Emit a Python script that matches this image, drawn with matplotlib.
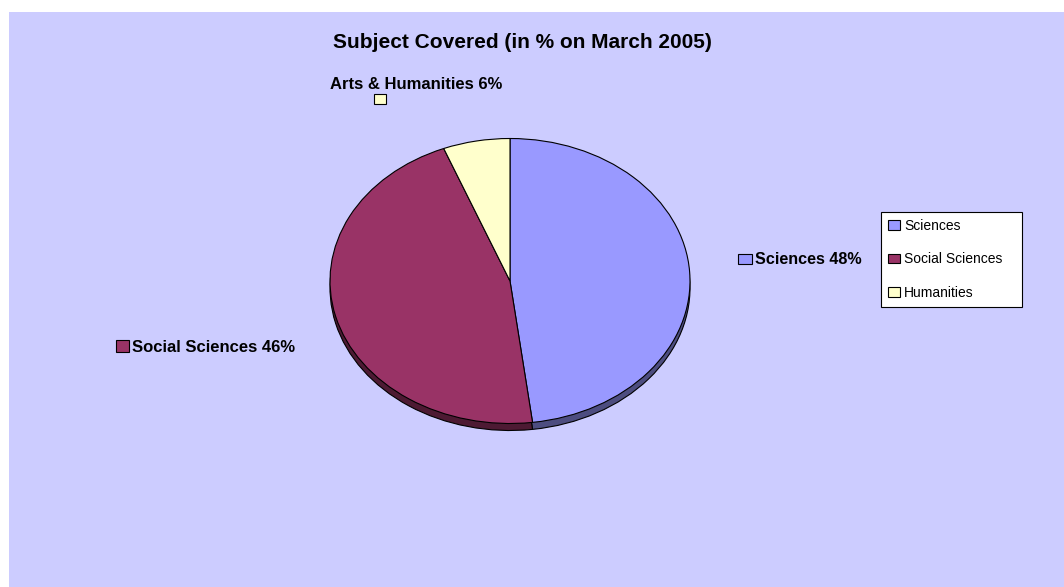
import matplotlib.pyplot as plt
from matplotlib.patches import Rectangle, Patch

plt.rcParams['font.family'] = ['Liberation Sans', 'DejaVu Sans']

# data
labels = ['Sciences', 'Social Sciences', 'Humanities']
values = [48, 46, 6]
label_text = ['Sciences 48%', 'Social Sciences 46%', 'Arts & Humanities 6%']
colors = ['#9999FF', '#993366', '#FFFFCC']
side_colors = ['#4D4D80', '#4D1A33', '#808066']

W, H = 1064, 587


def fx(px):
    return px / W


def fy(py):
    return 1 - py / H


fig = plt.figure(figsize=(W / 100, H / 100), dpi=100)
fig.patch.set_facecolor('white')

# lavender chart area
fig.add_artist(Rectangle((fx(9), 0), 1 - fx(9), fy(12), transform=fig.transFigure,
                         facecolor='#CCCCFF', edgecolor='none', zorder=0))

fig.text(fx(522), fy(48), 'Subject Covered (in % on March 2005)', ha='center', va='baseline',
         fontsize=15, fontweight='bold')

# pie axes, ellipse centre (510, 281), rx 180, ry 142.5
cx, cy, rx, ry = 510, 281, 180, 142.5
left, right, top, bottom = 320, 700, 130, 440
ax = fig.add_axes([fx(left), fy(bottom), (right - left) / W, (bottom - top) / H])
ax.set_facecolor('none')

depth = 7 / ry
ax.pie(values, colors=side_colors, startangle=90, counterclock=False, center=(0, -depth),
       wedgeprops=dict(edgecolor='black', linewidth=0.8), frame=False)
ax.pie(values, colors=colors, startangle=90, counterclock=False,
       wedgeprops=dict(edgecolor='black', linewidth=0.8), frame=False)
ax.set_aspect('auto')
ax.set_xlim(-(cx - left) / rx, (right - cx) / rx)
ax.set_ylim(-(bottom - cy) / ry, (cy - top) / ry)
ax.axis('off')

# data labels with colour keys
fig.add_artist(Rectangle((fx(738), fy(264)), 14 / W, 10 / H, transform=fig.transFigure,
                         facecolor=colors[0], edgecolor='black', linewidth=0.8))
fig.text(fx(755), fy(264), label_text[0], ha='left', va='baseline', fontsize=11.6, fontweight='bold')

fig.add_artist(Rectangle((fx(116), fy(352)), 13 / W, 12 / H, transform=fig.transFigure,
                         facecolor=colors[1], edgecolor='black', linewidth=0.8))
fig.text(fx(132), fy(352), label_text[1], ha='left', va='baseline', fontsize=12, fontweight='bold')

fig.text(fx(416), fy(89), label_text[2], ha='center', va='baseline', fontsize=12, fontweight='bold')
fig.add_artist(Rectangle((fx(374), fy(104)), 12 / W, 10 / H, transform=fig.transFigure,
                         facecolor=colors[2], edgecolor='black', linewidth=0.8))

handles = [Patch(facecolor=c, edgecolor='black', linewidth=0.8) for c in colors]
leg = fig.legend(handles, labels, loc='upper left',
                 bbox_to_anchor=(fx(881), fy(307), 141 / W, 95 / H), mode='expand',
                 fontsize=10, frameon=True, fancybox=False, borderaxespad=0,
                 handlelength=0.86, handleheight=0.65, handletextpad=0.3,
                 labelspacing=1.4, borderpad=0.5)
leg.get_frame().set_edgecolor('black')
leg.get_frame().set_linewidth(0.8)
leg.get_frame().set_facecolor('white')
leg.get_frame().set_alpha(1)

fig.savefig('out.png', dpi=100, facecolor=fig.get_facecolor())
